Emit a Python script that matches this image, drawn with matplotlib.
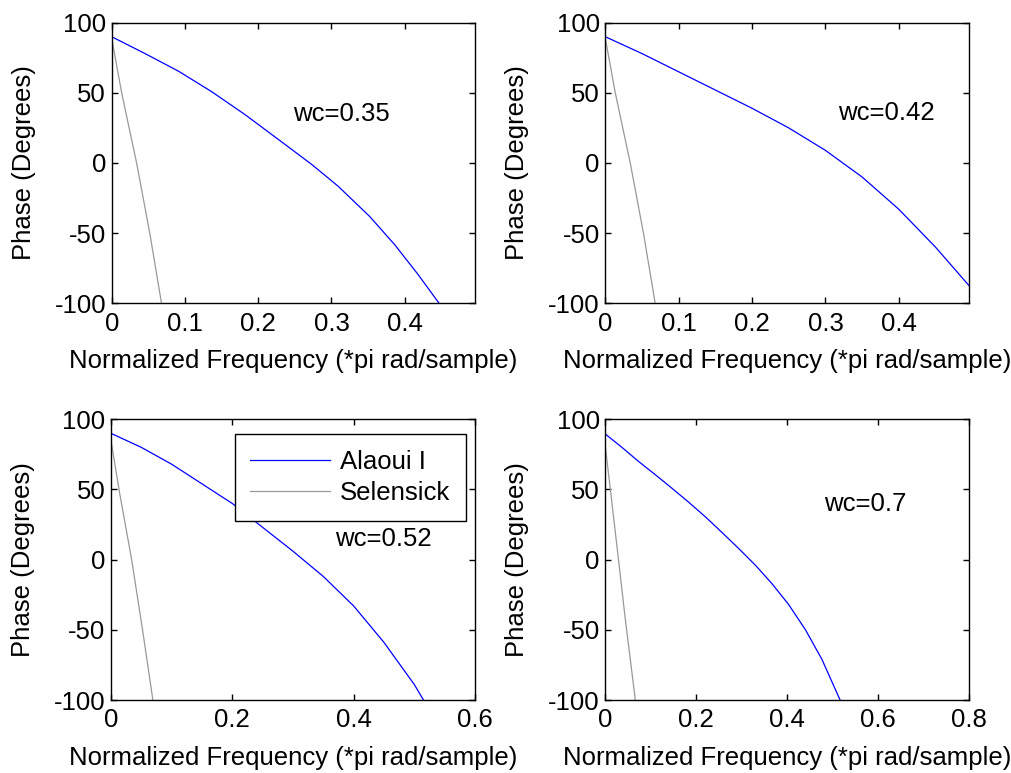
import matplotlib
matplotlib.use("Agg")
import matplotlib.pyplot as plt

plt.rcParams['font.family'] = ['Liberation Sans', 'DejaVu Sans']

# ---- data ----
wc_labels = ["wc=0.35", "wc=0.42", "wc=0.52", "wc=0.7"]

alaoui_x_1 = [0, 0, 0.0455, 0.091, 0.136, 0.182, 0.227, 0.273, 0.309, 0.352, 0.386, 0.417, 0.447]
alaoui_y_1 = [0, 90, 78, 65.5, 51, 34.5, 17, -1, -16.5, -38, -58, -78.6, -100]
alaoui_x_2 = [0, 0, 0.05, 0.1, 0.15, 0.2, 0.25, 0.3, 0.35, 0.4, 0.45, 0.4966]
alaoui_y_2 = [180, 90, 78, 65, 52, 39, 25, 9, -10, -33, -60, -88]
alaoui_x_3 = [0, 0, 0.05, 0.1, 0.15, 0.2, 0.25, 0.3, 0.35, 0.4, 0.45, 0.5, 0.515]
alaoui_y_3 = [180, 90, 80, 68, 54, 40, 23, 6, -12, -33, -59, -89, -100]
alaoui_x_4 = [0, 0, 0.0366, 0.073, 0.11, 0.146, 0.183, 0.22, 0.256, 0.293, 0.33,
              0.366, 0.403, 0.44, 0.476, 0.516]
alaoui_y_4 = [180, 89.5, 80, 70, 60.5, 51, 41, 30.5, 19.5, 8, -4,
              -17, -32, -50, -71, -100]

selensick_x_1 = [0, 0.0136, 0.034, 0.052, 0.068]
selensick_y_1 = [89, 50, 0, -50, -100]
selensick_x_2 = [0, 0.0136, 0.034, 0.052, 0.068]
selensick_y_2 = [89, 50, 0, -50, -100]
selensick_x_3 = [0, 0.014, 0.034, 0.052, 0.069]
selensick_y_3 = [85, 48, 0, -50, -100]
selensick_x_4 = [0, 0.029, 0.044, 0.066]
selensick_y_4 = [81, 0, -42.5, -100]

xlims = [0.496, 0.496, 0.6, 0.8]
xticks = [[0, 0.1, 0.2, 0.3, 0.4], [0, 0.1, 0.2, 0.3, 0.4],
          [0, 0.2, 0.4, 0.6], [0, 0.2, 0.4, 0.6, 0.8]]
xtick_labels = [["0", "0.1", "0.2", "0.3", "0.4"], ["0", "0.1", "0.2", "0.3", "0.4"],
                ["0", "0.2", "0.4", "0.6"], ["0", "0.2", "0.4", "0.6", "0.8"]]
yticks = [-100, -50, 0, 50, 100]
ytick_labels = ["-100", "-50", "0", "50", "100"]
wc_pos = [(0.247, 35), (0.317, 35.6), (0.369, 14.7), (0.481, 39.4)]

alaoui_x = [alaoui_x_1, alaoui_x_2, alaoui_x_3, alaoui_x_4]
alaoui_y = [alaoui_y_1, alaoui_y_2, alaoui_y_3, alaoui_y_4]
sel_x = [selensick_x_1, selensick_x_2, selensick_x_3, selensick_x_4]
sel_y = [selensick_y_1, selensick_y_2, selensick_y_3, selensick_y_4]

FS = 18.5
fig = plt.figure(figsize=(10.12, 7.73), dpi=100)
W, H = 1012, 773
boxes = [(111.7, 22.7, 475, 303.3), (605.3, 22.7, 969.3, 303.3),
         (111.0, 419.3, 475, 700), (605.3, 419.3, 969.3, 700)]

for i, (l, t, r, b) in enumerate(boxes):
    ax = fig.add_axes([l / W, 1 - b / H, (r - l) / W, (b - t) / H])
    ax.plot(alaoui_x[i], alaoui_y[i], color='#0000ff', lw=0.9, label='Alaoui I')
    ax.plot(sel_x[i], sel_y[i], color='#999999', lw=0.9, label='Selensick')
    ax.set_xlim(0, xlims[i])
    ax.set_ylim(-100, 100)
    ax.set_xticks(xticks[i])
    ax.set_xticklabels(xtick_labels[i])
    ax.set_yticks(yticks)
    ax.set_yticklabels(ytick_labels)
    ax.tick_params(direction='in', length=4, width=1, top=True, right=True,
                   labelsize=FS, pad=4, colors='black')
    ax.tick_params(axis='x', pad=6)
    for s in ax.spines.values():
        s.set_linewidth(1.0)
    ax.set_xlabel("Normalized Frequency (*pi rad/sample)", fontsize=FS)
    ax.set_ylabel("Phase (Degrees)", fontsize=FS)
    ax.xaxis.label.set_va('center')
    ax.yaxis.label.set_va('center')
    ax.xaxis.set_label_coords(0.5, -0.207)
    ax.yaxis.set_label_coords(-0.242, 0.5)
    ax.text(wc_pos[i][0], wc_pos[i][1], wc_labels[i], fontsize=FS,
            ha='left', va='center')
    if i == 2:
        leg = ax.legend(loc='upper right', bbox_to_anchor=(0.974, 0.9465),
                        borderaxespad=0, fontsize=FS, frameon=True, fancybox=False,
                        edgecolor='black', framealpha=1, handlelength=3.1,
                        handletextpad=0.4, borderpad=0.6, labelspacing=0.3)
        leg.get_frame().set_linewidth(1.0)

fig.savefig("out.png", dpi=100)
